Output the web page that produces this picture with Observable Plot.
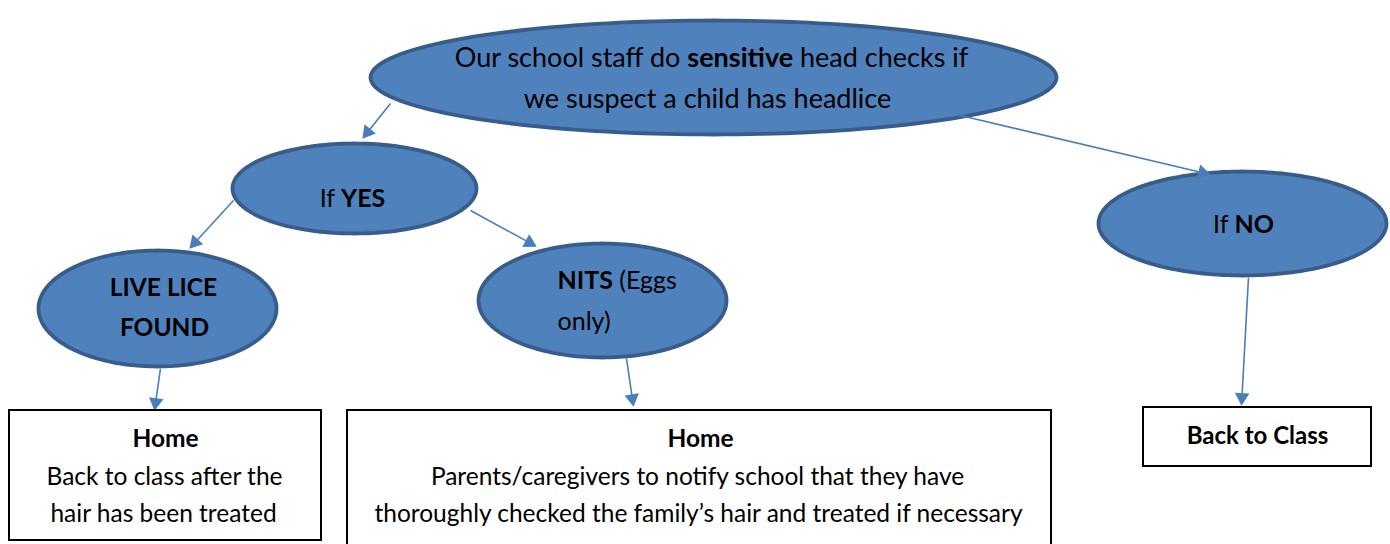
<!DOCTYPE html>
<html>
<head>
<meta charset="utf-8">
<script src="https://cdn.jsdelivr.net/npm/d3@7"></script>
<script src="https://cdn.jsdelivr.net/npm/@observablehq/plot@0.6"></script>
<style>
  html, body { margin: 0; padding: 0; background: #fff; }
  #chart svg { display: block; }
</style>
</head>
<body>
<div id="chart"></div>
<script>
// Ellipse nodes of the flowchart
const nodeIds = ["check", "yes", "live", "nits", "no"];
const nodeCx = [713, 354, 157, 602, 1242];
const nodeCy = [77, 188, 308, 300, 223];
const nodeRx = [343, 122, 119, 124, 144];
const nodeRy = [57, 45, 58, 57, 52];

// Rectangular outcome boxes
const boxIds = ["homeLice", "homeNits", "backClass"];
const boxX1 = [9, 347, 1143];
const boxX2 = [321, 1051, 1371];
const boxY1 = [410, 410, 407];
const boxY2 = [540, 548, 466];

// Connector arrows (start -> tip)
const arrowFrom = [[390, 103], [960, 115], [233, 200], [470, 210], [160, 368], [626, 358], [1248, 277]];
const arrowTo = [[362, 138], [1210, 174], [189, 248], [536, 246], [154, 410], [633, 406], [1241, 405]];

// Text lines (** marks bold)
const labelText = [
  "Our school staff do **sensitive** head checks if",
  "we suspect a child has headlice",
  "If **YES**",
  "**LIVE LICE**",
  "**FOUND**",
  "**NITS** (Eggs",
  "only)",
  "If **NO**",
  "**Home**",
  "Back to class after the",
  "hair has been treated",
  "**Home**",
  "Parents/caregivers to notify school that they have",
  "thoroughly checked the family\u2019s hair and treated if necessary",
  "**Back to Class**"
];
const labelX = [711, 707, 352, 163, 164, 557, 557, 1243, 165, 164, 163, 700, 697, 698, 1257];
const labelY = [58, 99, 198, 288, 328, 280, 321, 224, 439, 477, 514, 439, 477, 514, 436];
const labelAnchor = ["middle","middle","middle","middle","middle","start","start","middle","middle","middle","middle","middle","middle","middle","middle"];
const labelSize = [27, 27, 25, 24.5, 24.5, 25, 25, 25, 24.5, 24.5, 24.5, 24.5, 24.5, 24.5, 24];

// Build tables for marks
const ellipsePts = [];
nodeIds.forEach((id, i) => {
  const n = 180;
  for (let k = 0; k < n; k++) {
    const t = (k / n) * 2 * Math.PI;
    ellipsePts.push({id, x: nodeCx[i] + nodeRx[i] * Math.cos(t), y: nodeCy[i] + nodeRy[i] * Math.sin(t)});
  }
});
const boxes = boxIds.map((id, i) => ({id, x1: boxX1[i], x2: boxX2[i], y1: boxY1[i], y2: boxY2[i]}));
const headLen = 14;
const arrows = arrowFrom.map((f, i) => {
  const t = arrowTo[i];
  const dx = t[0] - f[0], dy = t[1] - f[1];
  const L = Math.hypot(dx, dy);
  const ux = dx / L, uy = dy / L;
  return {
    x1: f[0], y1: f[1],
    x2: t[0] - ux * headLen * 0.8, y2: t[1] - uy * headLen * 0.8,
    hx: t[0] - ux * 8.1, hy: t[1] - uy * 8.1,
    rot: Math.atan2(dx, -dy) * 180 / Math.PI
  };
});
const labels = labelText.map((s, i) => ({s, x: labelX[i], y: labelY[i], a: labelAnchor[i], fs: labelSize[i]}));

const fontFamily = "Lato, 'Open Sans', sans-serif";

const textMarks = Array.from(new Set(labelSize)).flatMap(size =>
  ["middle", "start"].map(anchor =>
    Plot.text(labels.filter(d => d.a === anchor && d.fs === size),
      {x: "x", y: "y", text: "s", textAnchor: anchor, fontSize: size, fill: "#000"})
  )
);

const plot = Plot.plot({
  width: 1390,
  height: 544,
  margin: 0,
  x: {domain: [0, 1390], range: [0, 1390], axis: null},
  y: {domain: [0, 544], range: [0, 544], axis: null},
  style: {background: "#fff", fontFamily},
  marks: [
    Plot.line(ellipsePts, {x: "x", y: "y", z: "id", curve: "linear-closed", fill: "#4f81bd", stroke: "#385d8a", strokeWidth: 3.8}),
    Plot.link(arrows, {x1: "x1", y1: "y1", x2: "x2", y2: "y2", stroke: "#4a7ebb", strokeWidth: 1.6}),
    Plot.dot(arrows, {x: "hx", y: "hy", symbol: "triangle", r: 5.4, rotate: "rot", fill: "#4a7ebb", stroke: "none"}),
    Plot.rect(boxes, {x1: "x1", x2: "x2", y1: "y1", y2: "y2", fill: "#fff", stroke: "#000", strokeWidth: 2}),
    ...textMarks
  ]
});

// Convert **bold** segments into bold tspans
plot.querySelectorAll("text").forEach(el => {
  const txt = el.textContent;
  if (!txt.includes("**")) return;
  const parts = txt.split(/\*\*(.+?)\*\*/);
  while (el.firstChild) el.removeChild(el.firstChild);
  parts.forEach((p, i) => {
    if (!p) return;
    const ts = document.createElementNS("http://www.w3.org/2000/svg", "tspan");
    if (i % 2 === 1) ts.setAttribute("font-weight", "bold");
    ts.textContent = p;
    el.appendChild(ts);
  });
});

document.getElementById("chart").appendChild(plot);
</script>
</body>
</html>
